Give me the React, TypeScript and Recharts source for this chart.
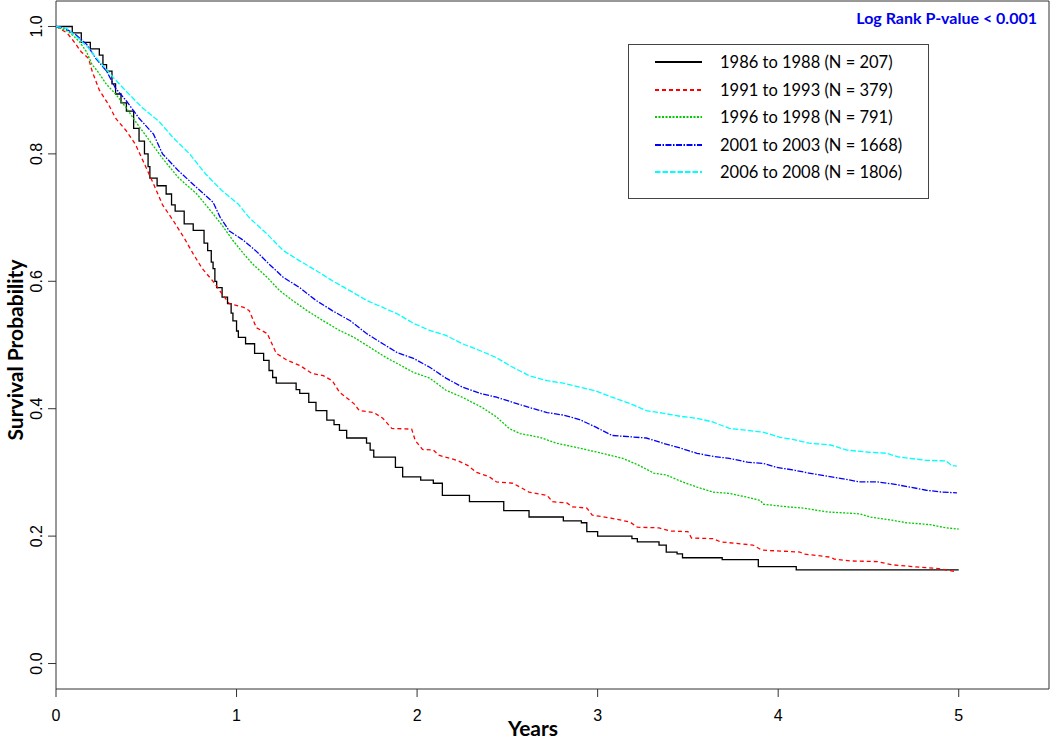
import React from 'react';
import { LineChart, Line, XAxis, YAxis, ReferenceArea, Legend } from 'recharts';

const seriesNames = [
  '1986 to 1988 (N = 207)',
  '1991 to 1993 (N = 379)',
  '1996 to 1998 (N = 791)',
  '2001 to 2003 (N = 1668)',
  '2006 to 2008 (N = 1806)',
];
const xTicks = [0, 1, 2, 3, 4, 5];
const yTicks = [0, 0.2, 0.4, 0.6, 0.8, 1.0];
const pValueText = 'Log Rank P-value < 0.001';
const xTitle = 'Years';
const yTitle = 'Survival Probability';

const t1986 = [0, 0.09, 0.14, 0.19, 0.24, 0.26, 0.28, 0.31, 0.33, 0.36, 0.39, 0.43, 0.46, 0.49, 0.51, 0.52, 0.56, 0.61, 0.64, 0.66, 0.71, 0.76, 0.82, 0.84, 0.86, 0.87, 0.88, 0.89, 0.92, 0.95, 0.97, 0.98, 1.0, 1.01, 1.05, 1.1, 1.15, 1.18, 1.2, 1.22, 1.33, 1.35, 1.4, 1.44, 1.5, 1.54, 1.57, 1.61, 1.72, 1.74, 1.76, 1.88, 1.92, 2.02, 2.09, 2.14, 2.29, 2.48, 2.62, 2.81, 2.91, 2.94, 3.0, 3.19, 3.22, 3.34, 3.38, 3.44, 3.47, 3.69, 3.89, 4.1, 5.0];
const s1986 = [1.0, 0.99, 0.975, 0.965, 0.955, 0.94, 0.93, 0.91, 0.894, 0.88, 0.867, 0.84, 0.82, 0.8, 0.78, 0.762, 0.75, 0.737, 0.72, 0.71, 0.69, 0.68, 0.66, 0.648, 0.63, 0.62, 0.6, 0.59, 0.575, 0.565, 0.55, 0.538, 0.522, 0.512, 0.502, 0.487, 0.476, 0.46, 0.449, 0.44, 0.43, 0.424, 0.41, 0.397, 0.382, 0.375, 0.366, 0.354, 0.346, 0.335, 0.324, 0.308, 0.293, 0.288, 0.283, 0.264, 0.254, 0.24, 0.23, 0.224, 0.221, 0.207, 0.2, 0.196, 0.191, 0.186, 0.175, 0.172, 0.166, 0.163, 0.152, 0.147, 0.147];

const t1991 = [0, 0.03, 0.06, 0.09, 0.14, 0.18, 0.2, 0.24, 0.29, 0.33, 0.39, 0.44, 0.5, 0.54, 0.59, 0.65, 0.71, 0.76, 0.81, 0.87, 0.92, 0.96, 1.04, 1.07, 1.11, 1.17, 1.22, 1.28, 1.35, 1.42, 1.48, 1.53, 1.57, 1.65, 1.68, 1.76, 1.81, 1.86, 1.97, 1.99, 2.03, 2.09, 2.12, 2.22, 2.28, 2.33, 2.4, 2.44, 2.53, 2.57, 2.62, 2.72, 2.75, 2.83, 2.86, 2.94, 2.97, 3.08, 3.18, 3.22, 3.34, 3.4, 3.5, 3.52, 3.64, 3.68, 3.86, 3.91, 4.12, 4.14, 4.29, 4.31, 4.4, 4.55, 4.63, 4.75, 4.89, 4.99];
const s1991 = [1.0, 0.995, 0.99, 0.98, 0.96, 0.95, 0.93, 0.9, 0.878, 0.856, 0.836, 0.815, 0.778, 0.753, 0.72, 0.695, 0.668, 0.643, 0.62, 0.6, 0.58, 0.565, 0.559, 0.554, 0.527, 0.518, 0.487, 0.476, 0.468, 0.455, 0.452, 0.444, 0.426, 0.408, 0.397, 0.394, 0.385, 0.369, 0.368, 0.35, 0.336, 0.335, 0.327, 0.319, 0.311, 0.3, 0.293, 0.285, 0.283, 0.277, 0.269, 0.264, 0.254, 0.252, 0.246, 0.244, 0.233, 0.228, 0.222, 0.214, 0.213, 0.208, 0.207, 0.197, 0.196, 0.191, 0.186, 0.178, 0.175, 0.172, 0.167, 0.164, 0.161, 0.16, 0.155, 0.152, 0.149, 0.144];

const t1996 = [0, 0.07, 0.13, 0.17, 0.2, 0.23, 0.28, 0.33, 0.39, 0.44, 0.52, 0.59, 0.68, 0.78, 0.85, 0.92, 0.98, 1.04, 1.09, 1.17, 1.24, 1.31, 1.39, 1.48, 1.57, 1.65, 1.74, 1.83, 1.89, 1.98, 2.07, 2.16, 2.25, 2.36, 2.44, 2.51, 2.57, 2.68, 2.77, 2.9, 3.01, 3.14, 3.23, 3.31, 3.38, 3.47, 3.55, 3.64, 3.73, 3.83, 3.9, 3.92, 4.05, 4.14, 4.27, 4.45, 4.51, 4.63, 4.71, 4.84, 4.93, 5.0];
const s1996 = [1.0, 0.992, 0.976, 0.96, 0.94, 0.93, 0.909, 0.894, 0.872, 0.851, 0.82, 0.793, 0.762, 0.737, 0.713, 0.688, 0.664, 0.643, 0.627, 0.606, 0.585, 0.57, 0.554, 0.538, 0.523, 0.512, 0.496, 0.48, 0.471, 0.457, 0.448, 0.429, 0.418, 0.402, 0.387, 0.369, 0.361, 0.355, 0.346, 0.338, 0.331, 0.322, 0.311, 0.299, 0.296, 0.285, 0.277, 0.269, 0.267, 0.261, 0.256, 0.25, 0.246, 0.244, 0.238, 0.235, 0.23, 0.225, 0.221, 0.218, 0.213, 0.211];

const t2001 = [0, 0.05, 0.11, 0.17, 0.22, 0.28, 0.33, 0.39, 0.46, 0.54, 0.59, 0.68, 0.78, 0.87, 0.91, 0.96, 1.04, 1.11, 1.18, 1.26, 1.35, 1.44, 1.53, 1.63, 1.72, 1.81, 1.89, 1.98, 2.07, 2.16, 2.25, 2.35, 2.44, 2.53, 2.62, 2.72, 2.81, 2.9, 2.99, 3.08, 3.27, 3.36, 3.46, 3.55, 3.64, 3.73, 3.83, 3.92, 3.99, 4.08, 4.17, 4.27, 4.36, 4.45, 4.55, 4.63, 4.73, 4.82, 4.91, 4.99];
const s2001 = [1.0, 0.997, 0.987, 0.972, 0.95, 0.93, 0.903, 0.883, 0.856, 0.831, 0.8, 0.773, 0.747, 0.724, 0.7, 0.679, 0.664, 0.647, 0.627, 0.606, 0.59, 0.57, 0.554, 0.538, 0.518, 0.502, 0.488, 0.479, 0.465, 0.448, 0.434, 0.424, 0.418, 0.41, 0.402, 0.394, 0.39, 0.383, 0.371, 0.358, 0.354, 0.346, 0.338, 0.33, 0.325, 0.322, 0.316, 0.314, 0.308, 0.304, 0.299, 0.294, 0.29, 0.285, 0.285, 0.282, 0.277, 0.272, 0.269, 0.268];

const t2006 = [0, 0.06, 0.13, 0.18, 0.24, 0.32, 0.39, 0.48, 0.57, 0.65, 0.74, 0.83, 0.92, 1.01, 1.07, 1.17, 1.26, 1.35, 1.44, 1.53, 1.63, 1.72, 1.81, 1.89, 1.98, 2.07, 2.16, 2.25, 2.35, 2.44, 2.53, 2.62, 2.72, 2.81, 2.9, 2.99, 3.08, 3.18, 3.27, 3.36, 3.46, 3.55, 3.64, 3.73, 3.83, 3.92, 4.01, 4.08, 4.17, 4.29, 4.38, 4.49, 4.6, 4.67, 4.82, 4.93, 4.96, 4.99];
const s2006 = [1.0, 0.997, 0.98, 0.966, 0.945, 0.919, 0.898, 0.872, 0.851, 0.825, 0.8, 0.768, 0.742, 0.721, 0.7, 0.674, 0.648, 0.632, 0.617, 0.601, 0.585, 0.57, 0.559, 0.549, 0.534, 0.523, 0.515, 0.502, 0.491, 0.48, 0.465, 0.452, 0.444, 0.44, 0.434, 0.428, 0.418, 0.408, 0.397, 0.393, 0.388, 0.385, 0.379, 0.369, 0.366, 0.363, 0.355, 0.352, 0.346, 0.343, 0.335, 0.332, 0.33, 0.324, 0.319, 0.318, 0.311, 0.31];

const zip = (ts: number[], ss: number[]) => ts.map((t, i) => ({ t, s: ss[i] }));

const series = [
  { name: seriesNames[0], data: zip(t1986, s1986), color: '#000000', dash: undefined, type: 'stepAfter' },
  { name: seriesNames[1], data: zip(t1991, s1991), color: '#ff0000', dash: '4 3', type: 'linear' },
  { name: seriesNames[2], data: zip(t1996, s1996), color: '#00cd00', dash: '2 1.5', type: 'linear' },
  { name: seriesNames[3], data: zip(t2001, s2001), color: '#0000ff', dash: '6 1.5 1.5 1.5', type: 'linear' },
  { name: seriesNames[4], data: zip(t2006, s2006), color: '#00ffff', dash: '5.5 2', type: 'linear' },
];

const TITLE_FONT = 'Lato, "Open Sans", sans-serif';
const TICK_FONT = '"Liberation Sans", Arial, sans-serif';

const YTick = (props: any) => {
  const { y, payload } = props;
  return (
    <text
      x={37}
      y={y}
      transform={`rotate(-90 37 ${y})`}
      textAnchor="middle"
      dominantBaseline="central"
      fontSize={16}
      fontFamily={TICK_FONT}
      fill="#000"
    >
      {Number(payload.value).toFixed(1)}
    </text>
  );
};

const XTick = (props: any) => {
  const { x, payload } = props;
  return (
    <text x={x} y={721} textAnchor="middle" fontSize={16} fontFamily={TICK_FONT} fill="#000">
      {payload.value}
    </text>
  );
};

const LegendBox = () => {
  const rows = [18, 46, 73, 101, 128];
  return (
    <svg width={301} height={155} style={{ display: 'block' }}>
      <rect x={0.5} y={0.5} width={300} height={154} fill="#fff" stroke="#444" strokeWidth={1} />
      {series.map((s, i) => (
        <g key={s.name}>
          <line x1={27} x2={74} y1={rows[i]} y2={rows[i]} stroke={s.color} strokeWidth={2} strokeDasharray={s.dash} />
          <text x={92} y={rows[i]} dominantBaseline="central" fontSize={16.5} fontFamily={TITLE_FONT} fill="#000">
            {s.name}
          </text>
        </g>
      ))}
    </svg>
  );
};

export default function App() {
  return (
    <div style={{ position: 'absolute', left: 0, top: 0, width: 1050, height: 739, background: '#fff' }}>
      <LineChart width={1050} height={739} margin={{ top: 1, right: 1, left: 0, bottom: 0 }}>
        <XAxis
          type="number"
          dataKey="t"
          domain={[0, 5.5]}
          ticks={xTicks}
          allowDataOverflow
          height={50}
          axisLine={false}
          tickLine={{ stroke: '#333' }}
          tickSize={8}
          tick={<XTick />}
          label={(props: any) => (
            <text x={533} y={727} textAnchor="middle" dominantBaseline="central" fontSize={21} fontWeight="bold" fontFamily={TITLE_FONT} fill="#000">
              {xTitle}
            </text>
          )}
        />
        <YAxis
          type="number"
          dataKey="s"
          domain={[-0.04, 1.04]}
          ticks={yTicks}
          allowDataOverflow
          width={56}
          axisLine={false}
          tickLine={{ stroke: '#333' }}
          tickSize={8}
          tick={<YTick />}
          label={(props: any) => (
            <text x={14} y={350} transform="rotate(-90 14 350)" textAnchor="middle" dominantBaseline="central" fontSize={21} fontWeight="bold" fontFamily={TITLE_FONT} fill="#000">
              {yTitle}
            </text>
          )}
        />
        <ReferenceArea x1={0} x2={5.5} y1={-0.04} y2={1.04} fill="none" stroke="#333" strokeWidth={1} ifOverflow="visible" />
        {series.map((s) => (
          <Line
            key={s.name}
            name={s.name}
            data={s.data}
            dataKey="s"
            type={s.type as any}
            stroke={s.color}
            strokeWidth={1.3}
            strokeDasharray={s.dash}
            dot={false}
            activeDot={false}
            isAnimationActive={false}
          />
        ))}
        <Legend
          layout="vertical"
          align="center"
          verticalAlign="middle"
          content={() => <LegendBox />}
          wrapperStyle={{ position: 'absolute', left: 628, top: 44, width: 301, height: 155 }}
        />
      </LineChart>
      <div
        style={{
          position: 'absolute',
          right: 13,
          top: 8,
          fontFamily: TITLE_FONT,
          fontWeight: 'bold',
          fontSize: 16,
          color: '#0000ee',
          whiteSpace: 'nowrap',
          lineHeight: '20px',
        }}
      >
        {pValueText}
      </div>
    </div>
  );
}
